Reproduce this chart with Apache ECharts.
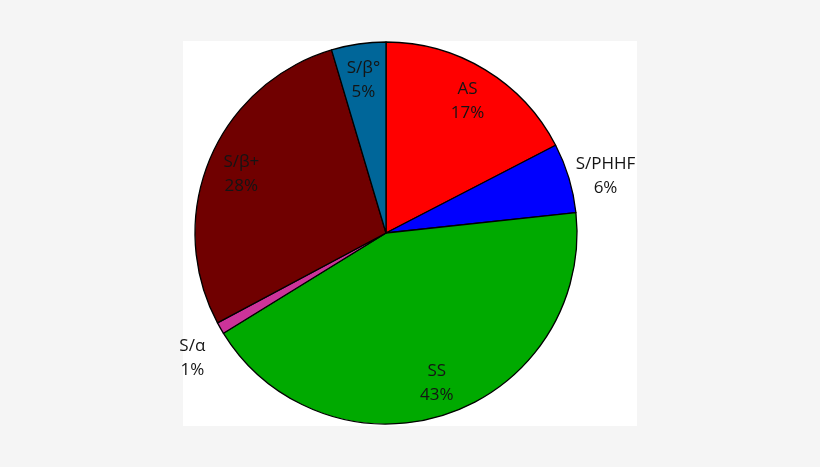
<!DOCTYPE html>
<html>
<head>
<meta charset="utf-8">
<script src="https://cdn.jsdelivr.net/npm/echarts@6/dist/echarts.min.js"></script>
<style>
html,body{margin:0;padding:0;background:#f5f5f5;}
#main{width:820px;height:467px;}
</style>
</head>
<body>
<div id="main"></div>
<script>
const categories = ['AS', 'S/PHHF', 'SS', 'S/α', 'S/β+', 'S/β°'];
const values = [17.4, 5.9, 42.9, 1.0, 28.2, 4.6];
const colors = ['#ff0000', '#0000ff', '#00aa00', '#cc3399', '#700000', '#006699'];
const outsideLabels = ['S/PHHF', 'S/α'];

const chart = echarts.init(document.getElementById('main'));
const center = [386, 233];
const R = 191;
const font = { fontFamily: 'Open Sans', fontSize: 17, lineHeight: 24, color: '#141414' };

function labelData(showOutside) {
  return categories.map((c, i) => {
    const isOut = outsideLabels.includes(c);
    return {
      name: c, value: values[i],
      itemStyle: { color: 'rgba(0,0,0,0)', borderWidth: 0 },
      label: { show: isOut === showOutside }
    };
  });
}

chart.setOption({
  backgroundColor: '#f5f5f5',
  animation: false,
  graphic: [{ type: 'rect', shape: { x: 183, y: 41, width: 454, height: 385 }, style: { fill: '#ffffff' }, z: -10 }],
  series: [
    {
      type: 'pie', center: center, radius: [0, R], startAngle: 90, clockwise: true,
      label: { show: false }, labelLine: { show: false }, silent: true,
      itemStyle: { borderColor: '#000', borderWidth: 1.3 },
      data: categories.map((c, i) => ({ name: c, value: values[i], itemStyle: { color: colors[i] } }))
    },
    {
      type: 'pie', center: center, radius: [R * 0.61, R], startAngle: 90, clockwise: true, silent: true,
      percentPrecision: 0,
      label: Object.assign({ position: 'inside', formatter: '{b}\n{d}%' }, font),
      labelLine: { show: false },
      labelLayout: { dy: 2 },
      data: labelData(false)
    },
    {
      type: 'pie', center: center, radius: [R * 1.13, R * 1.25], startAngle: 90, clockwise: true, silent: true,
      percentPrecision: 0,
      label: Object.assign({ position: 'inside', formatter: '{b}\n{d}%' }, font),
      labelLine: { show: false },
      labelLayout: function (p) {
        return categories[p.dataIndex] === 'S/α' ? { dx: 6, dy: 10 } : { dx: -1, dy: 9 };
      },
      data: labelData(true)
    }
  ]
});
</script>
</body>
</html>
